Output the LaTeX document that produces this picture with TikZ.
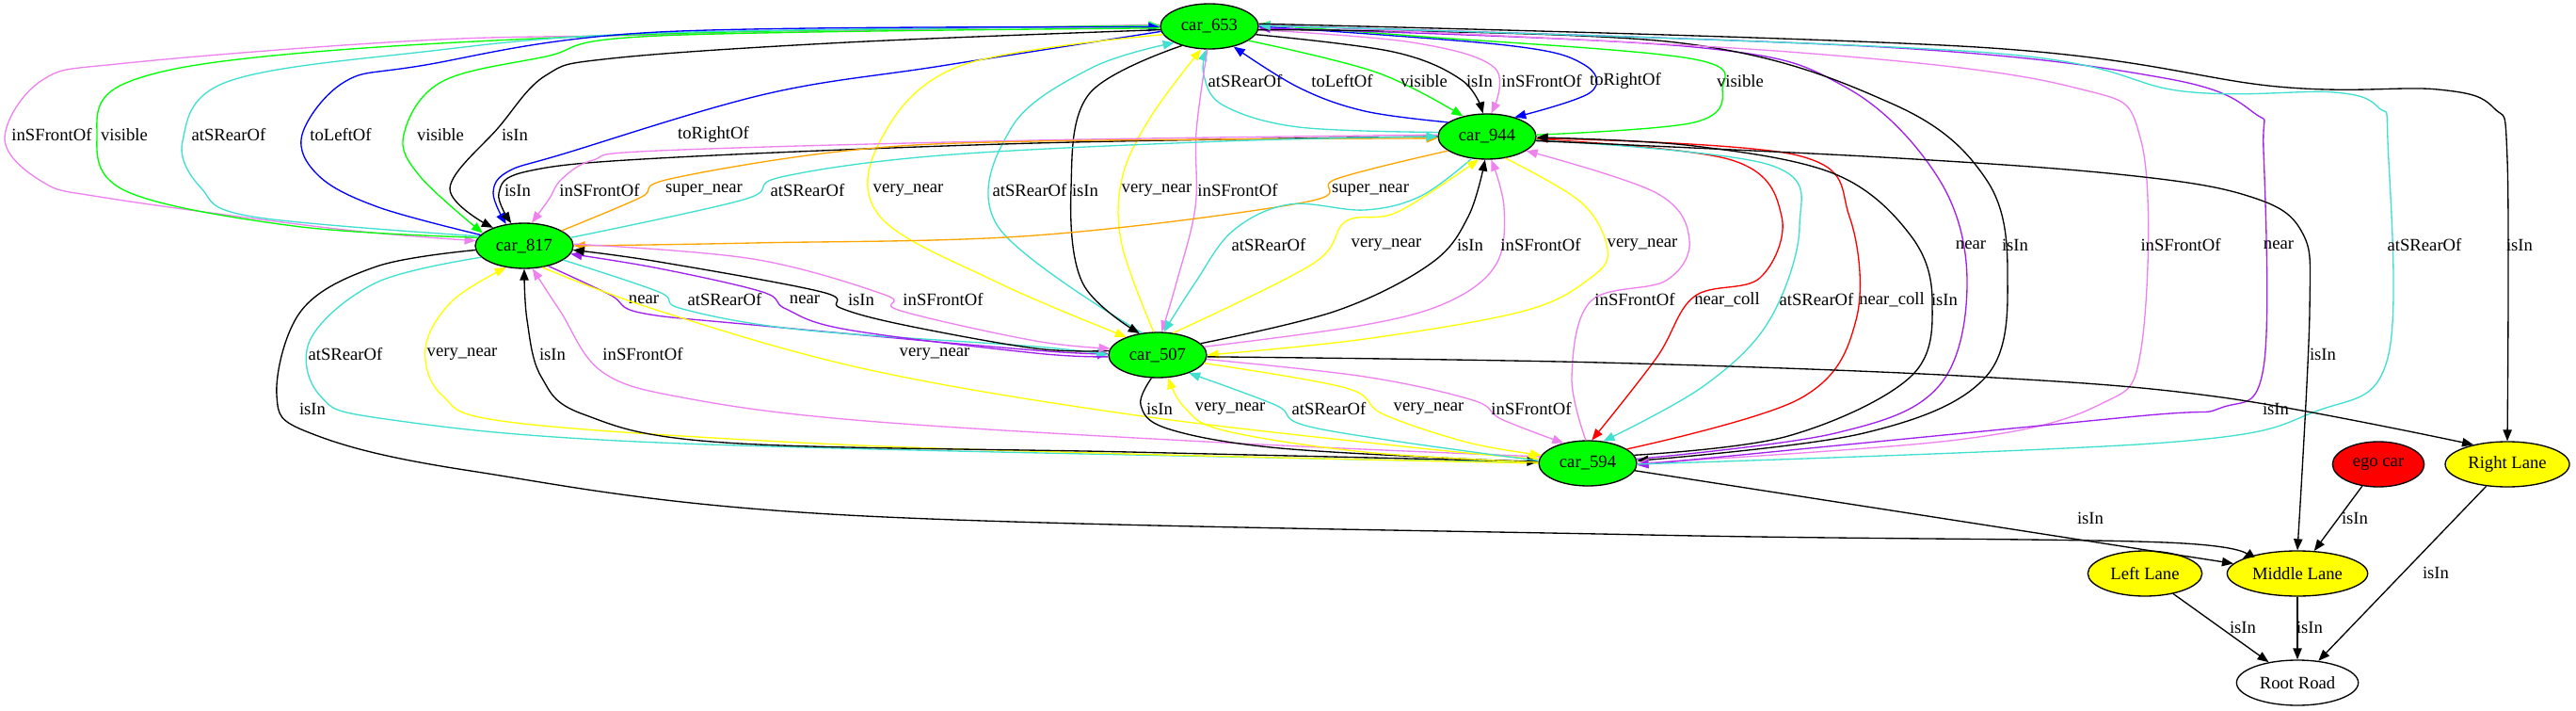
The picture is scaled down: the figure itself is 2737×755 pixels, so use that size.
\documentclass[tikz,border=0pt]{standalone}
\usepackage{fontspec}
\setmainfont{Liberation Serif}
\usetikzlibrary{shapes.geometric,arrows.meta}

\definecolor{gvgreen}{HTML}{00FF00}
\definecolor{gvviolet}{HTML}{EE82EE}
\definecolor{gvturq}{HTML}{40E0D0}
\definecolor{gvblue}{HTML}{0000FF}
\definecolor{gvyellow}{HTML}{FFFF00}
\definecolor{gvorange}{HTML}{FFA500}
\definecolor{gvpurple}{HTML}{A020F0}
\definecolor{gvred}{HTML}{FF0000}
\newcommand{\gvfont}{\fontsize{14pt}{16pt}\selectfont}

\begin{document}
\begin{tikzpicture}[x=0.75pt, y=-0.75pt,
    every plot/.style={smooth, tension=0.6},
    rel/.style={line width=1pt, -{Triangle[length=9pt,width=7pt]}},
    eisin/.style={rel, draw=black},
    efront/.style={rel, draw=gvviolet},
    erear/.style={rel, draw=gvturq},
    evis/.style={rel, draw=gvgreen},
    eleft/.style={rel, draw=gvblue},
    eright/.style={rel, draw=gvblue},
    evnear/.style={rel, draw=gvyellow},
    esnear/.style={rel, draw=gvorange},
    enear/.style={rel, draw=gvpurple},
    ecoll/.style={rel, draw=gvred},
    lbl/.style={inner sep=0pt, font=\gvfont},
    obj/.style={ellipse, draw, line width=1pt, inner sep=0pt, minimum height=36pt, font=\gvfont},
    car/.style={obj, fill=gvgreen, minimum width=78pt},
    lane/.style={obj, fill=gvyellow}]
  \useasboundingbox (0,0) rectangle (2737,755);

  % objects
  \node[car] (c653) at (1285,28) {car\_653};
  \node[car] (c944) at (1580,145) {car\_944};
  \node[car] (c817) at (557,261) {car\_817};
  \node[car] (c507) at (1230,377) {car\_507};
  \node[car] (c594) at (1687,492) {car\_594};
  \node[obj, fill=gvred, minimum width=73pt] (ego) at (2527,493) {ego car};
  \node[lane, minimum width=99pt] (right) at (2664,493) {Right Lane};
  \node[lane, minimum width=91pt] (left) at (2279,609) {Left Lane};
  \node[lane, minimum width=112pt] (middle) at (2441,609) {Middle Lane};
  \node[obj, minimum width=97pt] (road) at (2441,725) {Root Road};

  % car_653 -- car_817
  \draw[efront] plot coordinates {(c653.178) (700,37) (446,43) (134,67) (45,85) (5,147) (45,193) (112,210) (357,243) (c817.174)}
    node[lbl] (l1) at (55,143) {inSFrontOf};
  \draw[evis] plot coordinates {(c817.170) (312,240) (134,203) (103,143) (134,88) (312,57) (700,36) (c653.179)}
    node[lbl] (l2) at (132,143) {visible};
  \draw[erear] plot coordinates {(c817.168) (268,230) (214,200) (194,150) (241,87) (450,55) (700,35) (c653.180)}
    node[lbl] (l3) at (243,143) {atSRearOf};
  \draw[eleft] plot coordinates {(c817.166) (402,220) (339,187) (321,143) (366,87) (446,70) (700,34) (c653.181)}
    node[lbl] (l4) at (362,143) {toLeftOf};
  \draw[evis] plot coordinates {(c653.182) (700,38) (580,60) (469,87) (429,143) (446,187) (c817.163)}
    node[lbl] (l5) at (468,143) {visible};
  \draw[eisin] plot coordinates {(c653.184) (900,45) (650,62) (580,80) (530,135) (478,200) (c817.150)}
    node[lbl] (l6) at (547,143) {isIn};
  \draw[eright] plot coordinates {(c653.186) (1000,70) (813,100) (600,163) (540,182) (524,205) (c817.130)}
    node[lbl] (l7) at (758,143) {toRightOf};

  % car_653 -- car_944
  \draw[erear] plot coordinates {(c944.175) (1380,135) (1300,112) (1279,80) (c653.262)}
    node[lbl] (l8) at (1323,86) {atSRearOf};
  \draw[eleft] plot coordinates {(c944.160) (1450,118) (1380,93) (c653.320)}
    node[lbl] (l9) at (1426,86) {toLeftOf};
  \draw[evis] plot coordinates {(c653.340) (1463,77) (c944.140)}
    node[lbl] (l10) at (1513,86) {visible};
  \draw[eisin] plot coordinates {(c653.350) (1480,55) (1553,85) (c944.100)}
    node[lbl] (l11) at (1572,86) {isIn};
  \draw[efront] plot coordinates {(c653.356) (1500,45) (1588,72) (c944.80)}
    node[lbl] (l12) at (1638,86) {inSFrontOf};
  \draw[eright] plot coordinates {(c653.0) (1600,48) (1682,68) (1690,98) (c944.35)}
    node[lbl] (l13) at (1727,86) {toRightOf};
  \draw[evis] plot coordinates {(c944.2) (1800,130) (1830,95) (1795,62) (1500,38) (c653.2)}
    node[lbl] (l14) at (1849,86) {visible};

  % car_653 -- car_507
  \draw[evnear] plot coordinates {(c653.190) (1020,70) (935,150) (935,230) (1060,300) (c507.150)}
    node[lbl] (l15) at (965,202) {very\_near};
  \draw[erear] plot coordinates {(c507.125) (1060,240) (1075,135) (1160,72) (c653.205)}
    node[lbl] (l16) at (1094,202) {atSRearOf};
  \draw[eisin] plot coordinates {(c653.215) (1157,100) (1138,200) (1150,300) (c507.130)}
    node[lbl] (l17) at (1153,202) {isIn};
  \draw[evnear] plot coordinates {(c507.100) (1192,260) (1192,190) (1222,125) (c653.250)}
    node[lbl] (l18) at (1229,202) {very\_near};
  \draw[efront] plot coordinates {(c653.265) (1271,140) (1270,220) (1250,300) (c507.80)}
    node[lbl] (l19) at (1315,202) {inSFrontOf};

  % car_653 -- car_594
  \draw[enear] plot coordinates {(c594.5) (1950,460) (2060,410) (2090,300) (2060,190) (1960,92) (1800,50) (c653.358)}
    node[lbl] (l20) at (2094,260) {near};
  \draw[eisin] plot coordinates {(c653.356) (1780,45) (2010,110) (2110,190) (2133,290) (2110,400) (1980,460) (c594.3)}
    node[lbl] (l21) at (2141,260) {isIn};
  \draw[efront] plot coordinates {(c653.2) (1900,55) (2200,92) (2275,150) (2275,370) (2230,430) (2080,467) (c594.0)}
    node[lbl] (l22) at (2317,260) {inSFrontOf};
  \draw[enear] plot coordinates {(c653.1) (2000,50) (2300,83) (2395,120) (2405,160) (2405,390) (2360,433) (2260,443) (c594.358)}
    node[lbl] (l23) at (2421,260) {near};
  \draw[erear] plot coordinates {(c594.359) (2300,470) (2460,437) (2537,380) (2537,150) (2528,115) (2480,98) (2320,97) (2100,55) (c653.1)}
    node[lbl] (l24) at (2576,260) {atSRearOf};
  \draw[eisin] plot coordinates {(c653.3) (2100,50) (2420,92) (2590,95) (2650,115) (2664,170) (right.90)}
    node[lbl] (l25) at (2677,260) {isIn};

  % car_944 -- car_817
  \draw[eisin] plot coordinates {(c944.180) (1100,152) (700,168) (560,182) (530,205) (c817.120)}
    node[lbl] (l26) at (550,202) {isIn};
  \draw[efront] plot coordinates {(c944.178) (1100,149) (700,160) (630,170) (597,190) (583,212) (c817.72)}
    node[lbl] (l27) at (637,202) {inSFrontOf};
  \draw[esnear] plot coordinates {(c817.22) (680,210) (712,190) (900,160) (1100,150) (c944.182)}
    node[lbl] (l28) at (748,202) {super\_near};
  \draw[erear] plot coordinates {(c817.10) (790,212) (830,188) (1000,165) (1300,150) (c944.180)}
    node[lbl] (l29) at (858,202) {atSRearOf};
  \draw[esnear] plot coordinates {(c944.200) (1420,190) (1385,215) (1100,250) (800,258) (c817.0)}
    node[lbl] (l30) at (1456,202) {super\_near};

  % car_944 -- car_507
  \draw[erear] plot coordinates {(c944.235) (1510,208) (1450,223) (1370,217) (1310,245) (1270,300) (c507.75)}
    node[lbl] (l31) at (1348,260) {atSRearOf};
  \draw[evnear] plot coordinates {(c507.55) (1395,280) (1430,235) (1485,225) (c944.250)}
    node[lbl] (l32) at (1473,260) {very\_near};
  \draw[eisin] plot coordinates {(c507.15) (1420,330) (1520,280) (1560,230) (c944.265)}
    node[lbl] (l33) at (1562,260) {isIn};
  \draw[efront] plot coordinates {(c507.10) (1450,345) (1540,320) (1590,280) (1598,220) (c944.280)}
    node[lbl] (l34) at (1637,260) {inSFrontOf};
  \draw[evnear] plot coordinates {(c944.310) (1680,215) (1708,265) (1690,295) (1620,330) (1450,360) (c507.0)}
    node[lbl] (l35) at (1745,260) {very\_near};

  % car_944 -- car_594
  \draw[efront] plot coordinates {(c594.95) (1670,400) (1690,320) (1770,298) (1795,255) (1760,205) (c944.340)}
    node[lbl] (l36) at (1737,318) {inSFrontOf};
  \draw[ecoll] plot coordinates {(c944.357) (1840,170) (1893,230) (1870,295) (1800,315) (1760,380) (c594.80)}
    node[lbl] (l37) at (1835,318) {near\_coll};
  \draw[erear] plot coordinates {(c944.356) (1880,175) (1912,240) (1880,340) (1810,410) (c594.55)}
    node[lbl] (l38) at (1930,318) {atSRearOf};
  \draw[ecoll] plot coordinates {(c594.20) (1913,423) (1972,340) (1965,230) (1910,165) (c944.358)}
    node[lbl] (l39) at (2010,318) {near\_coll};
  \draw[eisin] plot coordinates {(c594.10) (1900,463) (2030,400) (2053,320) (2030,250) (1950,185) (1800,155) (c944.359)}
    node[lbl] (l40) at (2066,318) {isIn};
  \draw[eisin] plot coordinates {(c944.355) (2000,167) (2250,185) (2385,207) (2445,245) (2454,330) (middle.90)}
    node[lbl] (l41) at (2468,376) {isIn};

  % car_817 -- car_507
  \draw[enear] plot coordinates {(c817.320) (648,313) (680,332) (800,345) (1100,372) (c507.178)}
    node[lbl] (l42) at (684,318) {near};
  \draw[erear] plot coordinates {(c817.340) (700,310) (725,328) (850,350) (1100,368) (c507.180)}
    node[lbl] (l43) at (770,318) {atSRearOf};
  \draw[enear] plot coordinates {(c507.182) (1100,375) (900,350) (835,328) (810,310) (700,285) (c817.350)}
    node[lbl] (l44) at (855,318) {near};
  \draw[eisin] plot coordinates {(c507.175) (1100,370) (960,345) (893,327) (873,310) (700,278) (c817.355)}
    node[lbl] (l45) at (915,318) {isIn};
  \draw[efront] plot coordinates {(c817.2) (800,275) (940,313) (957,330) (1100,362) (c507.172)}
    node[lbl] (l46) at (1002,318) {inSFrontOf};

  % car_817 -- car_594
  \draw[erear] plot coordinates {(c817.195) (400,300) (330,360) (340,420) (410,445) (700,470) (1400,487) (c594.178)}
    node[lbl] (l47) at (367,376) {atSRearOf};
  \draw[evnear] plot coordinates {(c594.180) (1200,482) (850,470) (540,448) (470,420) (452,370) (480,320) (c817.230)}
    node[lbl] (l48) at (491,376) {very\_near};
  \draw[eisin] plot coordinates {(c594.178) (1200,480) (770,470) (620,440) (575,400) (560,340) (c817.270)}
    node[lbl] (l49) at (587,376) {isIn};
  \draw[efront] plot coordinates {(c594.172) (1300,470) (920,447) (730,423) (640,395) (595,330) (c817.290)}
    node[lbl] (l50) at (683,376) {inSFrontOf};
  \draw[evnear] plot coordinates {(c817.310) (700,330) (920,392) (1200,440) (1500,475) (c594.175)}
    node[lbl] (l51) at (993,376) {very\_near};

  % car_507 -- car_594
  \draw[eisin] plot coordinates {(c507.255) (1212,430) (1240,455) (1350,475) (1550,487) (c594.178)}
    node[lbl] (l52) at (1232,434) {isIn};
  \draw[evnear] plot coordinates {(c594.179) (1450,480) (1300,457) (1258,432) (c507.295)}
    node[lbl] (l53) at (1307,434) {very\_near};
  \draw[erear] plot coordinates {(c594.177) (1400,455) (1355,430) (c507.330)}
    node[lbl] (l54) at (1412,434) {atSRearOf};
  \draw[evnear] plot coordinates {(c507.350) (1430,412) (1470,440) (1560,470) (c594.170)}
    node[lbl] (l55) at (1518,434) {very\_near};
  \draw[efront] plot coordinates {(c507.355) (1450,400) (1565,425) (1595,445) (c594.140)}
    node[lbl] (l56) at (1627,434) {inSFrontOf};

  % lanes
  \draw[eisin] plot coordinates {(c507.358) (1700,385) (2100,400) (2361,422) (right.150)}
    node[lbl] (l57) at (2418,434) {isIn};
  \draw[eisin] (c594) -- (middle) node[lbl] (l58) at (2221,550) {isIn};
  \draw[eisin] plot coordinates {(c817.185) (400,283) (320,330) (294,420) (330,460) (500,500) (900,547) (1750,568) (2300,576) (middle.165)}
    node[lbl] (l59) at (332,434) {isIn};
  \draw[eisin] (ego) -- (middle) node[lbl] (l60) at (2502,550) {isIn};
  \draw[eisin] (left) -- (road) node[lbl] (l61) at (2383,666) {isIn};
  \draw[eisin] (middle) -- (road) node[lbl] (l62) at (2454,666) {isIn};
  \draw[eisin] (right) -- (road) node[lbl] (l63) at (2588,608) {isIn};
\end{tikzpicture}
\end{document}
